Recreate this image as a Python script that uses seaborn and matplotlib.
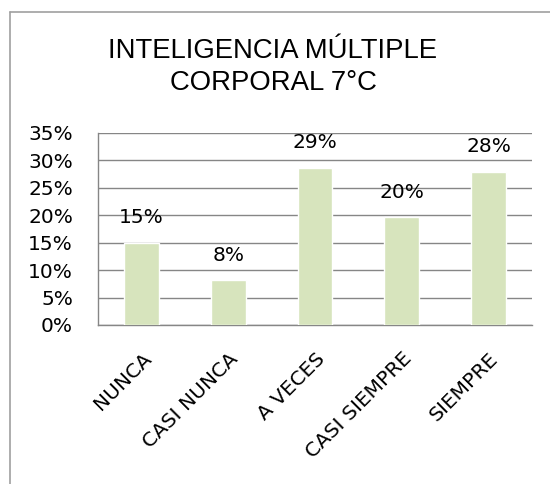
import matplotlib
matplotlib.use("Agg")
import matplotlib.pyplot as plt
import matplotlib.transforms as mtransforms
import seaborn as sns
import pandas as pd
from matplotlib.lines import Line2D
from matplotlib.ticker import FuncFormatter, MultipleLocator

categories = ["NUNCA", "CASI NUNCA", "A VECES", "CASI SIEMPRE", "SIEMPRE"]
values = [0.150, 0.082, 0.287, 0.196, 0.279]
labels = ["15%", "8%", "29%", "20%", "28%"]
title = "INTELIGENCIA MÚLTIPLE\nCORPORAL 7°C"

sns.set_theme(style="white")
plt.rcParams["font.family"] = ["DejaVu Sans"]

df = pd.DataFrame({"cat": categories, "val": values})

fig = plt.figure(figsize=(5.5, 4.84), dpi=100)
ax = fig.add_axes([98/550, 1-325/484, (532-98)/550, (325-133)/484])

sns.barplot(data=df, x="cat", y="val", color="#D7E4BD", width=0.4,
            saturation=1, ax=ax, zorder=3)

ax.set_ylim(0, 0.35)
ax.yaxis.set_major_locator(MultipleLocator(0.05))
ax.yaxis.set_major_formatter(FuncFormatter(lambda v, p: f"{round(v*100)}%"))
ax.grid(axis="y", color="#868686", linewidth=1, zorder=0)
ax.set_axisbelow(True)
ax.set_xlabel("")
ax.set_ylabel("")
for s in ["top", "right"]:
    ax.spines[s].set_visible(False)
for s in ["left", "bottom"]:
    ax.spines[s].set_color("#868686")
    ax.spines[s].set_linewidth(1)
ax.tick_params(axis="both", length=0, labelsize=14.5, labelcolor="black")
ax.tick_params(axis="y", pad=18)
ax.tick_params(axis="x", pad=0)
offset = mtransforms.ScaledTranslation(0/100, -24/100, fig.dpi_scale_trans)
for t in ax.get_xticklabels():
    t.set_rotation(45)
    t.set_ha("right")
    t.set_va("top")
    t.set_rotation_mode("anchor")
    t.set_transform(t.get_transform() + offset)

for i, (v, lab) in enumerate(zip(values, labels)):
    ax.annotate(lab, (i, v), xytext=(0, 25), textcoords="offset pixels",
                ha="center", va="center", fontsize=14.5, color="black", zorder=5)

fig.text(273/550, 1-67/484, title, ha="center", va="center",
         fontsize=19.8, family="Liberation Sans", linespacing=1.25, color="black")

fig.add_artist(Line2D([10/550, 10/550], [0, 1-12/484], color="#a0a0a0", lw=1.2,
                      transform=fig.transFigure))
fig.add_artist(Line2D([10/550, 1], [1-12/484, 1-12/484], color="#a0a0a0", lw=1.2,
                      transform=fig.transFigure))

fig.savefig("out.png", dpi=100)
